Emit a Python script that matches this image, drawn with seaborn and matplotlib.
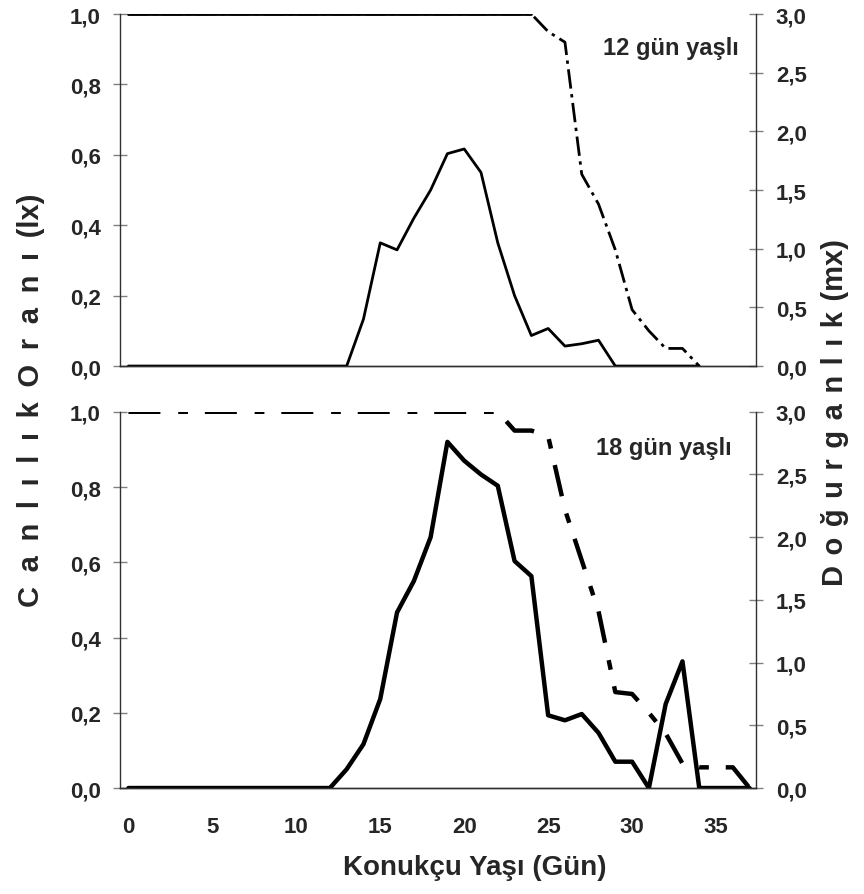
import numpy as np
import pandas as pd
import matplotlib
matplotlib.use("Agg")
import matplotlib.pyplot as plt
from matplotlib.ticker import FixedLocator, FuncFormatter
import seaborn as sns

# age in days (host age), one point per day
ages_12 = list(range(0, 35))
ages_18 = list(range(0, 38))

# 12 day old hosts
lx_12 = [1.0] * 25 + [0.95, 0.92, 0.545, 0.46, 0.33, 0.16, 0.10, 0.05, 0.05, 0.0]
mx_12 = [0.0] * 14 + [0.40, 1.05, 0.99, 1.26, 1.50, 1.81, 1.85, 1.65, 1.05, 0.60,
                      0.26, 0.32, 0.17, 0.19, 0.22, 0.0, 0.0, 0.0, 0.0, 0.0, 0.0]

# 18 day old hosts
lx_18 = [1.0] * 23 + [0.95, 0.95, 0.935, 0.74, 0.605, 0.47, 0.255, 0.25, 0.20,
                      0.145, 0.065, 0.055, 0.055, 0.055, 0.0]
mx_18 = [0.0] * 13 + [0.15, 0.35, 0.71, 1.40, 1.65, 2.0, 2.76, 2.61, 2.50, 2.41,
                      1.81, 1.69, 0.58, 0.54, 0.59, 0.44, 0.21, 0.21, 0.0, 0.67,
                      1.01, 0.0, 0.0, 0.0, 0.0]

panels = [
    ("12 gün yaşlı", ages_12, lx_12, mx_12),
    ("18 gün yaşlı", ages_18, lx_18, mx_18),
]

x_ticks = [0, 5, 10, 15, 20, 25, 30, 35]

sns.set_theme(style="white")
plt.rcParams["font.family"] = ["Liberation Sans", "DejaVu Sans"]
plt.rcParams["font.weight"] = "bold"

fig = plt.figure(figsize=(8.64, 8.95), dpi=100)

# axes rectangles in figure fraction
rects = [
    [0.1389, 0.5899, 0.7365, 0.3933],
    [0.1389, 0.1184, 0.7365, 0.4204],
]

comma = FuncFormatter(lambda v, p: f"{v:.1f}".replace(".", ","))

for i, (title, ages, lx, mx) in enumerate(panels):
    df = pd.DataFrame({"age": ages, "lx": lx, "mx": mx})
    ax = fig.add_axes(rects[i])
    ax2 = ax.twinx()

    if i == 0:
        lw = 2.0
        lx_dash = (7, 2, 1.2, 2)
    else:
        lw = 3.2
        lx_dash = (7.2, 4, 2.2, 3.8)

    sns.lineplot(data=df, x="age", y="lx", ax=ax, color="black", lw=lw,
                 dashes=False)
    ax.lines[-1].set_dashes(lx_dash)
    if i == 0:
        # plateau at 1,0 is drawn solid in the original
        flat = df[df["lx"] >= 1.0]
        sns.lineplot(data=flat, x="age", y="lx", ax=ax, color="black", lw=lw)
    sns.lineplot(data=df, x="age", y="mx", ax=ax2, color="black", lw=lw)

    ax.set_xlim(-0.5, 37.4)
    ax.set_ylim(0, 1.0)
    ax2.set_ylim(0, 3.0)
    ax.set_yticks(np.arange(0, 1.01, 0.2))
    ax2.set_yticks(np.arange(0, 3.01, 0.5))
    ax.yaxis.set_major_formatter(comma)
    ax2.yaxis.set_major_formatter(comma)

    ax.set_xticks(x_ticks)
    ax.xaxis.set_minor_locator(FixedLocator([t - 0.5 for t in x_ticks]))
    if i == 0:
        ax.set_xticklabels([])
    else:
        ax.set_xticklabels([str(t) for t in x_ticks])

    for a in (ax, ax2):
        a.set_xlabel("")
        a.set_ylabel("")
        a.spines["top"].set_visible(False)
        for s in a.spines.values():
            s.set_color("#303030")
            s.set_linewidth(1.0)
        a.tick_params(axis="y", direction="inout", length=10, width=1,
                      color="#808080", labelsize=16, pad=9)
    ax.tick_params(axis="x", which="major", length=0, pad=20, labelsize=16)
    ax.tick_params(axis="x", which="minor", direction="inout", length=10,
                   width=1, color="#808080")
    ax2.spines["left"].set_visible(False)
    ax.spines["right"].set_visible(False)

    ax.text(0.972 if i == 0 else 0.961, 0.906, title, transform=ax.transAxes,
            ha="right", va="center", fontsize=17, fontweight="bold")

en = "\u2002"
ylab_left = en.join(list("Canlılık") + list("Oranı") + ["(lx)"])
gap = " \u200a"
ylab_right = gap.join(list("Doğurganlık") + ["(mx)"])

fig.text(0.036, 0.553, ylab_left, rotation=90, ha="center", va="center",
         fontsize=21, fontweight="bold")
fig.text(0.966, 0.539, ylab_right, rotation=90, ha="center", va="center",
         fontsize=21, fontweight="bold")
fig.text(0.549, 0.030, "Konukçu Yaşı (Gün)", ha="center", va="center",
         fontsize=20, fontweight="bold")

fig.savefig("out.png", dpi=100)
